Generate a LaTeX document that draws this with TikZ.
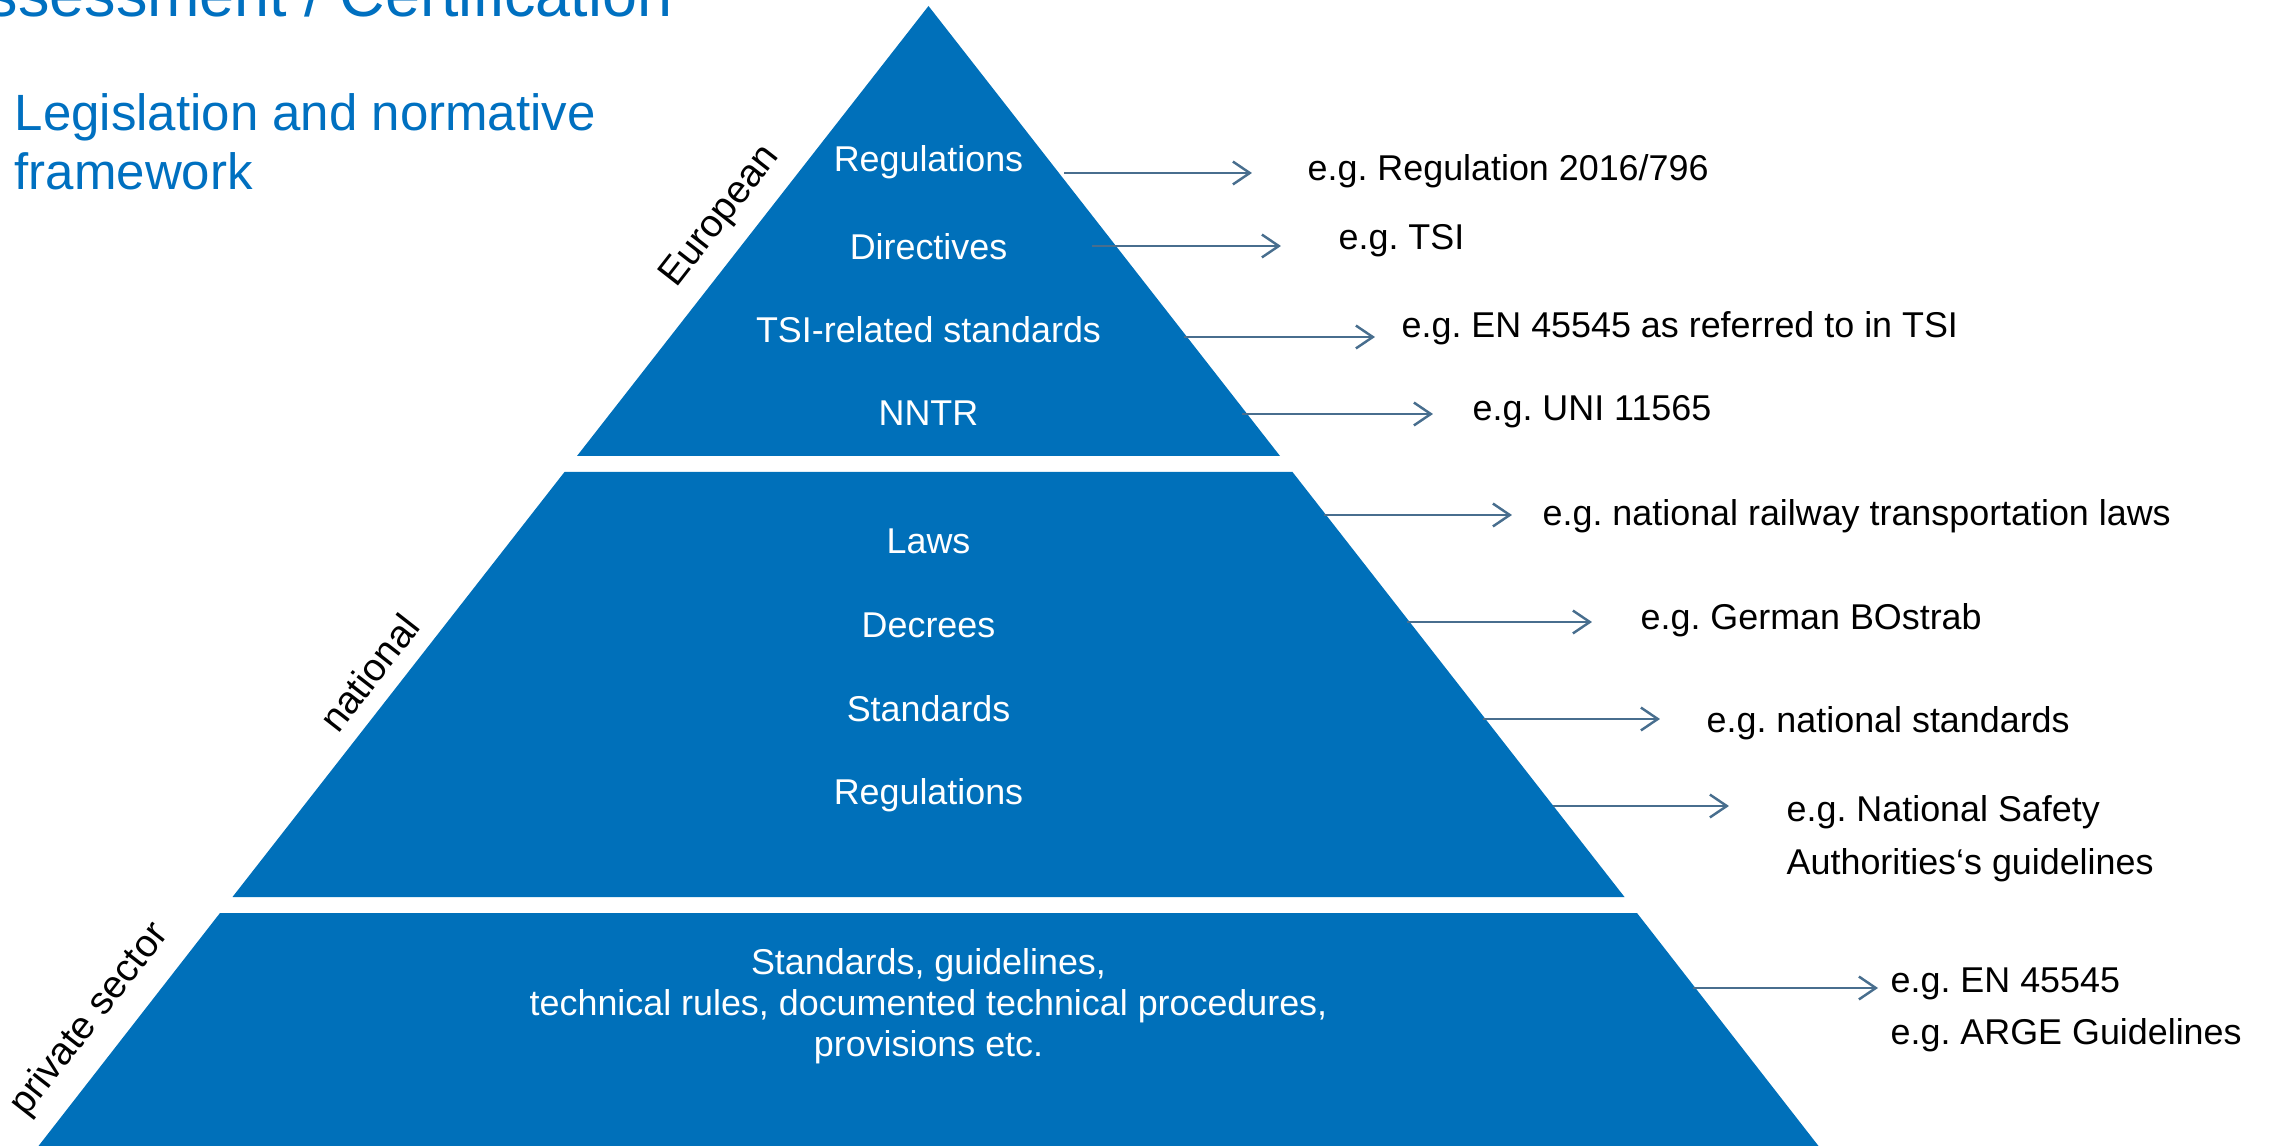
\documentclass[tikz,border=0pt]{standalone}
\usepackage{fontspec}
\setmainfont{Liberation Sans}
\usetikzlibrary{arrows.meta}
\frenchspacing

\definecolor{pyrblue}{RGB}{0,112,186}
\definecolor{headblue}{RGB}{0,112,192}
\definecolor{arrowgray}{RGB}{72,110,142}

\begin{document}
\begin{tikzpicture}[x=0.01cm, y=-0.01cm,
    layer/.style={fill=pyrblue, draw=none},
    inside/.style={text=white, font=\fontsize{10.2}{11.7}\selectfont, align=center},
    example/.style={anchor=west, inner sep=0pt, font=\fontsize{10.2}{15}\selectfont, align=left},
    level/.style={rotate=52, font=\fontsize{11}{13}\selectfont},
    pointer/.style={draw=arrowgray, line width=0.7pt, -{Straight Barb[length=4.8pt,width=6.5pt]}}]

    % Frame of the slide
    \useasboundingbox (0,0) rectangle (2269,1146);

    % Title
    \node[anchor=base east, inner sep=0pt, text=headblue, font=\fontsize{17.9}{20}\selectfont] (title) at (673,17) {Assessment / Certification};
    \node[anchor=west, inner sep=0pt, text=headblue, align=left, font=\fontsize{14.5}{16.8}\selectfont] (subtitle) at (14,142) {Legislation and normative\\framework};

    %%%% Pyramid layers
    \fill[layer] (928.5,6) -- (1280,456) -- (577,456) -- cycle;
    \fill[layer] (564.5,472) -- (1292.5,472) -- (1624.5,897) -- (232.5,897) -- cycle;
    \fill[layer] (220,913) -- (1637,913) -- (1818.5,1146) -- (38.5,1146) -- cycle;

    % Levels
    \node[level] (european) at (721,217) {European};
    \node[level] (national) at (369,673) {national};
    \node[level] (private) at (90,1020) {private sector};

    %%%% European layer
    \node[inside] (reg) at (928.5,162) {Regulations};
    \node[inside] (dir) at (928.5,247) {Directives};
    \node[inside] (tsi) at (928.5,330) {TSI-related standards};
    \node[inside] (nntr) at (928.5,413) {NNTR};

    %%%% National layer
    \node[inside] (laws) at (928.5,541) {Laws};
    \node[inside] (decrees) at (928.5,625) {Decrees};
    \node[inside] (stds) at (928.5,709) {Standards};
    \node[inside] (nreg) at (928.5,795) {Regulations};

    %%%% Private sector layer
    \node[inside] (rules) at (928.5,1006) {Standards, guidelines,\\technical rules, documented technical procedures,\\provisions etc.};

    %%%% Examples
    \node[example] (egreg) at (1307,171) {e.g. Regulation 2016/796};
    \node[example] (egtsi) at (1338,241) {e.g. TSI};
    \node[example] (egen) at (1401,328) {e.g. EN 45545 as referred to in TSI};
    \node[example] (eguni) at (1472,412) {e.g. UNI 11565};
    \node[example] (eglaws) at (1542,516) {e.g. national railway transportation laws};
    \node[example] (egbos) at (1640,620) {e.g. German BOstrab};
    \node[example] (egstd) at (1706,723) {e.g. national standards};
    \node[example] (egnsa) at (1786,839) {e.g. National Safety\\Authorities‘s guidelines};
    \node[example] (egpriv) at (1890,1010) {e.g. EN 45545\\e.g. ARGE Guidelines};

    % Arrow starts on the pyramid
    \coordinate (sreg) at (1064,173);
    \coordinate (sdir) at (1092,246);
    \coordinate (stsi) at (1184,337);
    \coordinate (snntr) at (1242,414);
    \coordinate (slaws) at (1324,515);
    \coordinate (sdecrees) at (1407,622);
    \coordinate (sstds) at (1483,719);
    \coordinate (snreg) at (1553,806);
    \coordinate (srules) at (1693,988);

    % Arrows
    \draw[pointer, shorten >=0.55cm] (sreg) -- (sreg -| egreg.west);
    \draw[pointer, shorten >=0.57cm] (sdir) -- (sdir -| egtsi.west);
    \draw[pointer, shorten >=0.26cm] (stsi) -- (stsi -| egen.west);
    \draw[pointer, shorten >=0.39cm] (snntr) -- (snntr -| eguni.west);
    \draw[pointer, shorten >=0.30cm] (slaws) -- (slaws -| eglaws.west);
    \draw[pointer, shorten >=0.48cm] (sdecrees) -- (sdecrees -| egbos.west);
    \draw[pointer, shorten >=0.46cm] (sstds) -- (sstds -| egstd.west);
    \draw[pointer, shorten >=0.57cm] (snreg) -- (snreg -| egnsa.west);
    \draw[pointer, shorten >=0.12cm] (srules) -- (srules -| egpriv.west);

\end{tikzpicture}
\end{document}
